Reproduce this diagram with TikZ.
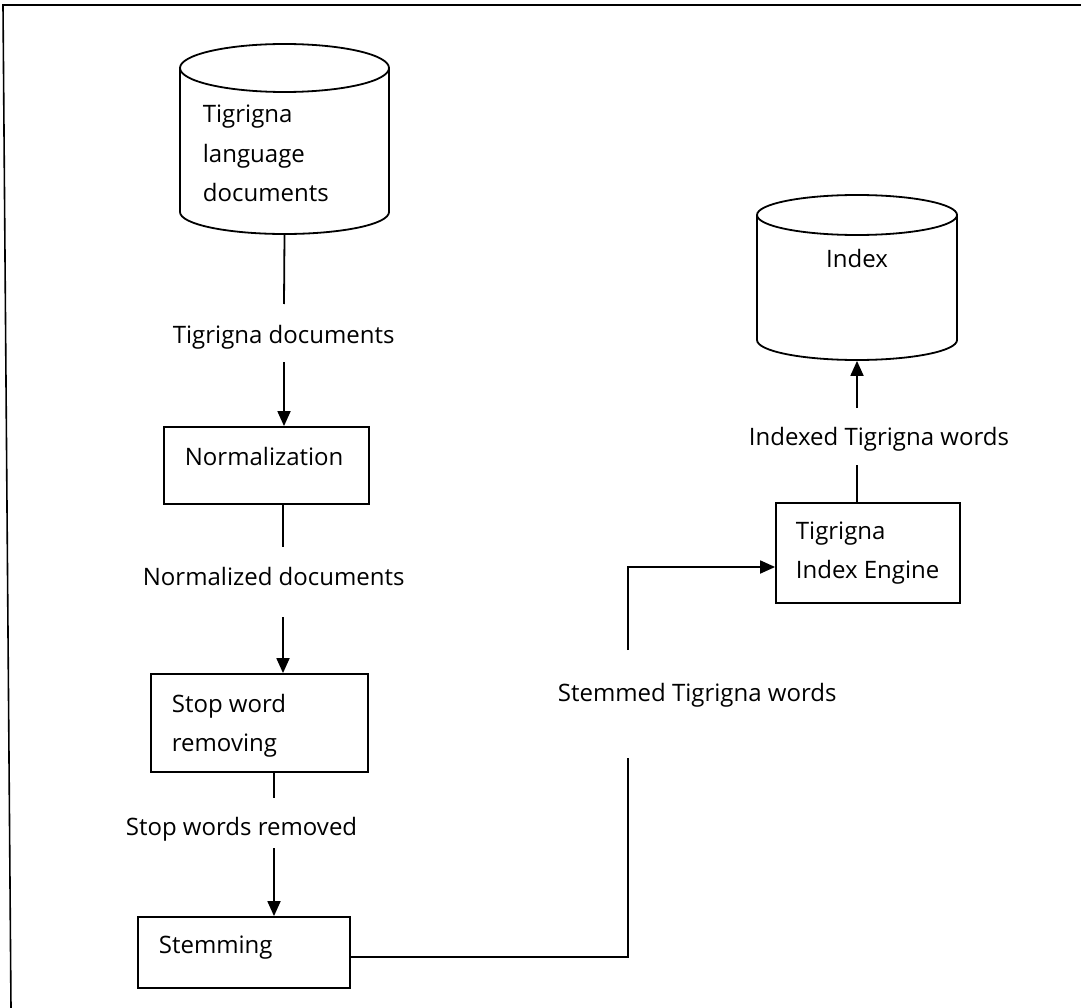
\documentclass[tikz,border=0pt]{standalone}
\usepackage{fontspec}
\setmainfont{Open Sans}
\usetikzlibrary{arrows.meta}
\begin{document}
\begin{tikzpicture}[x=1pt,y=-1pt,
  line width=1.8pt,
  flow/.style={-{Triangle[length=15pt,width=13pt]}},
  txt/.style={anchor=base west, inner sep=0pt, font=\fontsize{24}{40}\selectfont},
  ctxt/.style={anchor=base, inner sep=0pt, font=\fontsize{24}{40}\selectfont},
  box/.style={draw, inner sep=0pt},
  area/.style={inner sep=0pt},
]
\useasboundingbox (0,0) rectangle (1081,1008);

% outer frame
\draw[line width=1.6pt] (11,1008) -- (3,5) -- (1081,5);

% document store
\node[area, minimum width=209pt, minimum height=190pt] (docs) at (284.5,139) {};
\draw (180,68) -- (180,212) arc[start angle=180, end angle=0, x radius=104.5, y radius=22] -- (389,68);
\draw (284.5,68) ellipse [x radius=104.5, y radius=24];
\node[txt] (docsA) at (202,123) {Tigrigna};
\node[txt] (docsB) at (202,163) {language};
\node[txt] (docsC) at (202,202) {documents};

% index store
\node[area, minimum width=200pt, minimum height=165pt] (idx) at (857,277.5) {};
\draw (757,215) -- (757,340) arc[start angle=180, end angle=0, x radius=100, y radius=20] -- (957,215);
\draw (857,215) ellipse [x radius=100, y radius=20];
\node[ctxt] (idxT) at (857,268) {Index};

% processing steps
\node[box, minimum width=205pt, minimum height=77pt] (norm) at (266.5,465.5) {};
\node[txt] (normT) at (184,465) {Normalization};

\node[box, minimum width=217pt, minimum height=98pt] (stop) at (259.5,723) {};
\node[txt] (stopA) at (171,712) {Stop word};
\node[txt] (stopB) at (171,751) {removing};

\node[box, minimum width=212pt, minimum height=71pt] (stem) at (244,952.5) {};
\node[txt] (stemT) at (158,953) {Stemming};

\node[box, minimum width=184pt, minimum height=100pt] (engine) at (868,553) {};
\node[txt] (engA) at (795,539) {Tigrigna};
\node[txt] (engB) at (795,578) {Index Engine};

% flow labels
\node[txt] (l1) at (172,343) {Tigrigna documents};
\node[txt] (l2) at (142,585) {Normalized documents};
\node[txt] (l3) at (125,835) {Stop words removed};
\node[txt] (l4) at (557,701) {Stemmed Tigrigna words};
\node[txt] (l5) at (748,445) {Indexed Tigrigna words};

% label gaps on the connectors
\coordinate (a1) at (284,304);
\coordinate (b1) at (284,362);
\coordinate (a2) at (283,547);
\coordinate (b2) at (283,617);
\coordinate (a3) at (274,798);
\coordinate (b3) at (274,848);
\coordinate (c4) at (628,957);
\coordinate (a4) at (628,758);
\coordinate (b4) at (628,650);
\coordinate (d4) at (628,567);
\coordinate (e5) at (857,503);
\coordinate (a5) at (857,465);
\coordinate (b5) at (857,408);

% connectors
\draw (docs.south) -- (a1);
\draw[flow] (b1) -- (norm.north -| b1);
\draw (norm.south -| a2) -- (a2);
\draw[flow] (b2) -- (stop.north -| b2);
\draw (stop.south -| a3) -- (a3);
\draw[flow] (b3) -- (stem.north -| b3);
\draw ([yshift=-4.5pt]stem.east) -- (c4) -- (a4);
\draw[flow] (b4) -- (d4) -- (engine.west |- d4);
\draw (e5) -- (a5);
\draw[flow] (b5) -- (idx.south);
\end{tikzpicture}
\end{document}
